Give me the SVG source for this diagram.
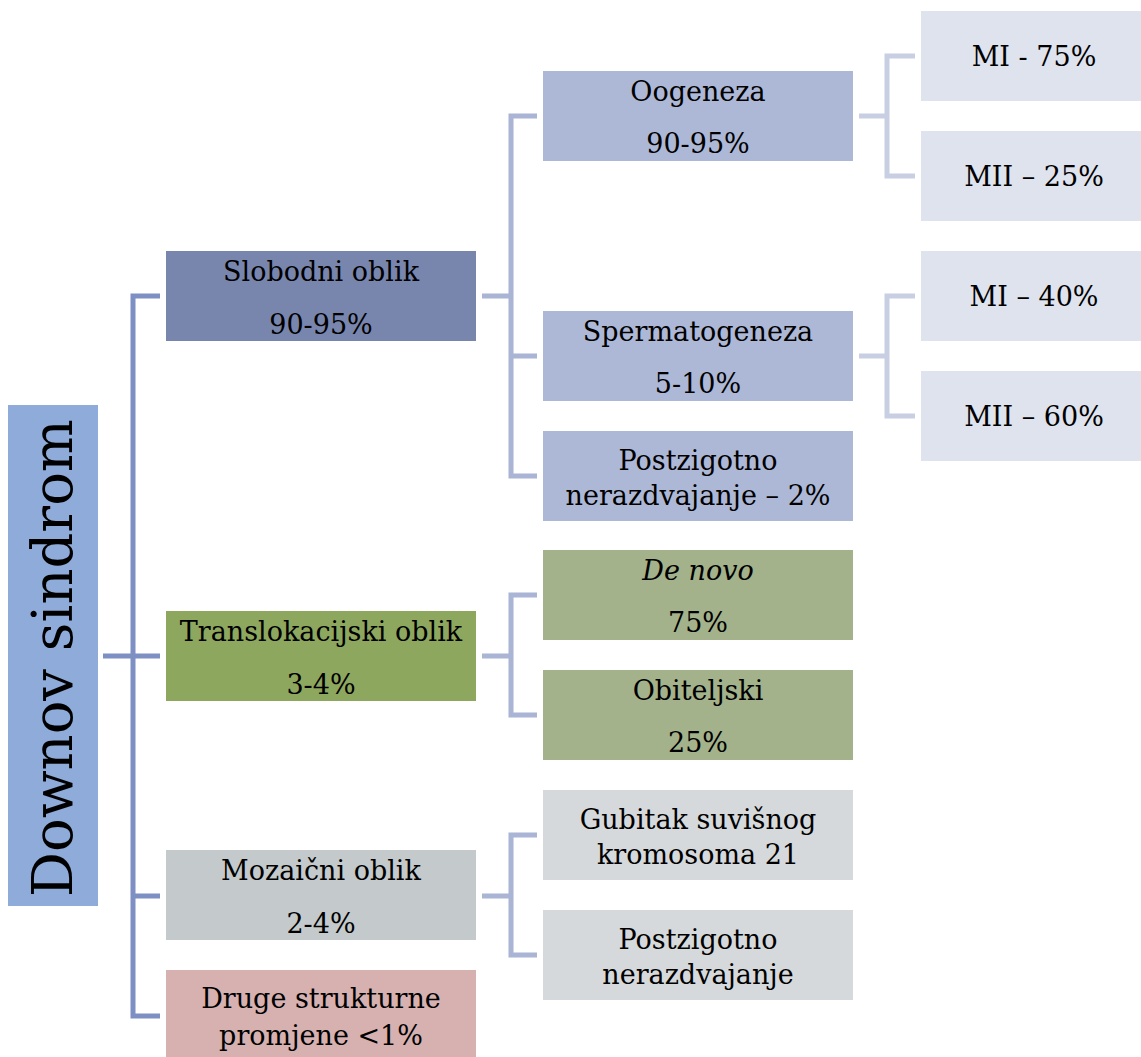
<svg xmlns="http://www.w3.org/2000/svg" width="1141" height="1057" viewBox="0 0 1141 1057">
<style>
text{font-family:"DejaVu Serif","Liberation Serif",serif;font-size:27px;fill:#000;text-anchor:middle}
.c1{fill:none;stroke:#7e8fc3;stroke-width:5}
.c2{fill:none;stroke:#aab4d4;stroke-width:5}
.c3{fill:none;stroke:#c9cfe3;stroke-width:5}
</style>
<rect width="1141" height="1057" fill="#fff"/>
<g id="connectors">
<path class="c1" d="M103 656H133M160 296H133V1016H160M133 656H160M133 896H160"/>
<path class="c2" d="M482 296H511M537 116H511V476H537M511 356H537"/>
<path class="c2" d="M482 656H511M537 595H511V715H537"/>
<path class="c2" d="M482 896H511M537 835H511V955H537"/>
<path class="c3" d="M859 116H887M915 56H887V176H915"/>
<path class="c3" d="M859 356H887M915 296H887V416H915"/>
</g>
<g id="root"><rect x="8" y="405" width="90" height="501" fill="#8eabd9"/><text transform="translate(72 658) rotate(-90)" style="font-size:56px">Downov sindrom</text></g>
<g id="slobodni"><rect x="166" y="251" width="310" height="90" fill="#7886ae"/><text x="321" y="281">Slobodni oblik</text><text x="321" y="334">90-95%</text></g>
<g id="transl"><rect x="166" y="611" width="310" height="90" fill="#8ea75e"/><text x="321" y="641">Translokacijski oblik</text><text x="321" y="694">3-4%</text></g>
<g id="mozaicni"><rect x="166" y="850" width="310" height="90" fill="#c4c9cb"/><text x="321" y="880">Mozaični oblik</text><text x="321" y="933">2-4%</text></g>
<g id="druge"><rect x="166" y="970" width="310" height="87" fill="#d6b1b0"/><text x="321" y="1008">Druge strukturne</text><text x="321" y="1045">promjene &lt;1%</text></g>
<g id="oogeneza"><rect x="543" y="71" width="310" height="90" fill="#adb8d7"/><text x="698" y="101">Oogeneza</text><text x="698" y="153">90-95%</text></g>
<g id="spermato"><rect x="543" y="311" width="310" height="90" fill="#adb8d7"/><text x="698" y="341">Spermatogeneza</text><text x="698" y="393">5-10%</text></g>
<g id="postzig1"><rect x="543" y="431" width="310" height="90" fill="#adb8d7"/><text x="698" y="470">Postzigotno</text><text x="698" y="505">nerazdvajanje – 2%</text></g>
<g id="denovo"><rect x="543" y="550" width="310" height="90" fill="#a3b28b"/><text x="698" y="580" font-style="italic">De novo</text><text x="698" y="632">75%</text></g>
<g id="obiteljski"><rect x="543" y="670" width="310" height="90" fill="#a3b28b"/><text x="698" y="700">Obiteljski</text><text x="698" y="752">25%</text></g>
<g id="gubitak"><rect x="543" y="790" width="310" height="90" fill="#d6d9db"/><text x="698" y="829">Gubitak suvišnog</text><text x="698" y="864">kromosoma 21</text></g>
<g id="postzig2"><rect x="543" y="910" width="310" height="90" fill="#d6d9db"/><text x="698" y="949">Postzigotno</text><text x="698" y="984">nerazdvajanje</text></g>
<g id="mi75"><rect x="921" y="11" width="220" height="90" fill="#dfe3ee"/><text x="1034" y="66">MI - 75%</text></g>
<g id="mii25"><rect x="921" y="131" width="220" height="90" fill="#dfe3ee"/><text x="1034" y="186">MII – 25%</text></g>
<g id="mi40"><rect x="921" y="251" width="220" height="90" fill="#dfe3ee"/><text x="1034" y="306">MI – 40%</text></g>
<g id="mii60"><rect x="921" y="371" width="220" height="90" fill="#dfe3ee"/><text x="1034" y="426">MII – 60%</text></g>
</svg>
